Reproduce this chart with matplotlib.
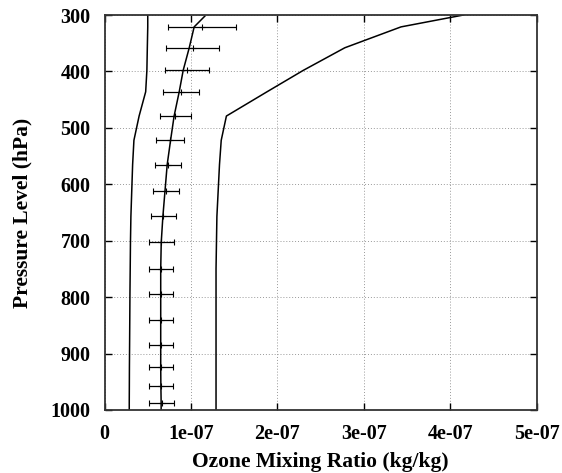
import numpy as np
import matplotlib
matplotlib.use("Agg")
import matplotlib.pyplot as plt

# ---- data ----
# upper / lower envelope and mean profile, pressure in hPa, ozone in 1e-7 kg/kg
env_p = [300, 321, 358, 398, 436, 479, 522, 565, 611, 657, 703, 750, 795, 841, 884, 923, 958, 987, 1000]
max_o3 = [4.15, 3.43, 2.78, 2.30, 1.88, 1.41, 1.35, 1.33, 1.315, 1.30, 1.295, 1.29, 1.29, 1.29, 1.29, 1.29, 1.29, 1.29, 1.29]
min_o3 = [0.50, 0.50, 0.495, 0.49, 0.476, 0.40, 0.34, 0.325, 0.315, 0.305, 0.30, 0.297, 0.294, 0.292, 0.29, 0.288, 0.287, 0.286, 0.286]
mean_p = [302, 321, 358, 398, 436, 479, 522, 565, 611, 657, 703, 750, 795, 841, 884, 923, 958, 987, 1000]
mean_o3 = [1.16, 1.037, 0.98, 0.91, 0.864, 0.805, 0.764, 0.725, 0.70, 0.675, 0.656, 0.65, 0.65, 0.65, 0.65, 0.65, 0.652, 0.655, 0.655]

# sample mean +- spread
obs_p = [321, 358, 398, 436, 479, 522, 565, 611, 657, 703, 750, 795, 841, 884, 923, 958, 987]
obs_o3 = [1.125, 1.02, 0.955, 0.885, 0.82, 0.76, 0.735, 0.708, 0.682, 0.657, 0.652, 0.652, 0.652, 0.652, 0.652, 0.652, 0.663]
obs_err = [0.395, 0.31, 0.255, 0.205, 0.175, 0.16, 0.155, 0.152, 0.148, 0.143, 0.142, 0.142, 0.142, 0.142, 0.142, 0.142, 0.143]

x_ticks = [0, 1e-7, 2e-7, 3e-7, 4e-7, 5e-7]
x_labels = ["0", "1e-07", "2e-07", "3e-07", "4e-07", "5e-07"]
y_ticks = [300, 400, 500, 600, 700, 800, 900, 1000]

scale = 1e-7

plt.rcParams['font.family'] = ['Liberation Serif', 'DejaVu Serif']
plt.rcParams['font.weight'] = 'bold'

fig = plt.figure(figsize=(5.62, 4.73), dpi=100)
ax = fig.add_axes([0.186, 0.1332, 0.769, 0.8350])

ax.plot(np.array(max_o3) * scale, env_p, color="black", lw=1.1)
ax.plot(np.array(min_o3) * scale, env_p, color="black", lw=1.1)
ax.plot(np.array(mean_o3) * scale, mean_p, color="black", lw=1.1)
ax.errorbar(np.array(obs_o3) * scale, obs_p, xerr=np.array(obs_err) * scale,
            fmt="+", color="black", ms=5, mew=0.8, elinewidth=0.9,
            capsize=2.5, capthick=0.9)

ax.set_xlim(0, 5e-7)
ax.set_ylim(1000, 300)
ax.set_xticks(x_ticks)
ax.set_xticklabels(x_labels)
ax.set_yticks(y_ticks)

ax.grid(True, color="#999999", linestyle=(0, (1, 2)), lw=0.7)
ax.tick_params(direction="in", top=True, right=True, length=5, width=1,
               labelsize=14.5)
ax.tick_params(axis="x", pad=10)
ax.tick_params(axis="y", pad=10)
for s in ax.spines.values():
    s.set_linewidth(1.3)
    s.set_color("#333333")

ax.set_xlabel("Ozone Mixing Ratio (kg/kg)", fontsize=15.5, fontweight="bold", labelpad=6)
ax.set_ylabel("Pressure Level (hPa)", fontsize=15.5, fontweight="bold", labelpad=13)

fig.savefig("out.png", dpi=100)
